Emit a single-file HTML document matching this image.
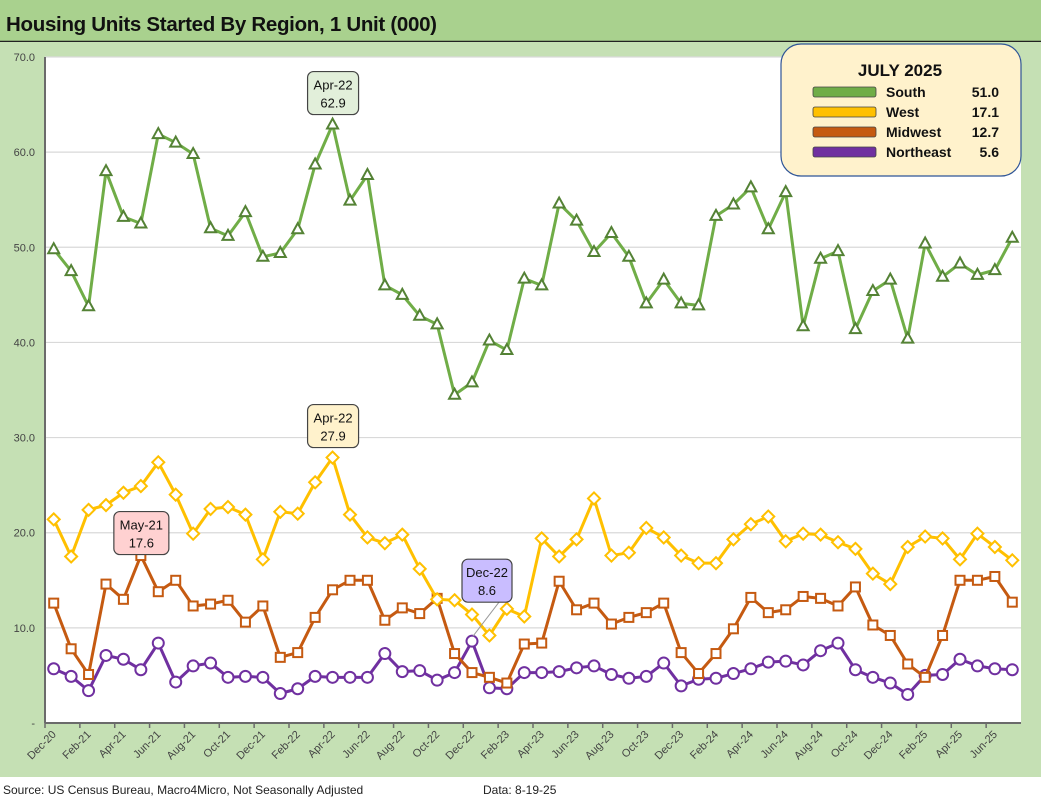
<!DOCTYPE html>
<html><head><meta charset="utf-8"><style>
body{margin:0;width:1041px;height:806px;overflow:hidden;background:#fff;font-family:"Liberation Sans",sans-serif}
svg{display:block}
</style></head><body>
<svg id="chart" width="1041" height="806">
<rect x="0" y="0" width="1041" height="41" fill="#a9d18e"/>
<line x1="0" y1="41.5" x2="1041" y2="41.5" stroke="#222" stroke-width="1.5"/>
<rect x="0" y="42" width="1041" height="735" fill="#c5e0b4"/>
<rect x="45" y="57" width="976" height="666" fill="#fff"/>
<text x="6" y="31" font-size="20.5" font-weight="bold" fill="#111" letter-spacing="-0.3">Housing Units Started By Region, 1 Unit (000)</text>
<text x="3" y="794" font-size="12" fill="#222">Source: US Census Bureau, Macro4Micro, Not Seasonally Adjusted</text>
<text x="483" y="794" font-size="12" fill="#222">Data: 8-19-25</text>
<g id="grid"></g><g id="axes"></g><g id="series"></g><g id="notes"></g>
<g>
<rect x="781" y="44" width="240" height="132" rx="20" fill="#fff2cc" stroke="#2f5597" stroke-width="1.2"/>
<text x="900" y="76" font-size="17" font-weight="bold" text-anchor="middle" fill="#111">JULY 2025</text>
<g id="legend-rows"></g>
</g>
</svg>
<script>
const months=["Dec-20","Jan-21","Feb-21","Mar-21","Apr-21","May-21","Jun-21","Jul-21","Aug-21","Sep-21","Oct-21","Nov-21","Dec-21","Jan-22","Feb-22","Mar-22","Apr-22","May-22","Jun-22","Jul-22","Aug-22","Sep-22","Oct-22","Nov-22","Dec-22","Jan-23","Feb-23","Mar-23","Apr-23","May-23","Jun-23","Jul-23","Aug-23","Sep-23","Oct-23","Nov-23","Dec-23","Jan-24","Feb-24","Mar-24","Apr-24","May-24","Jun-24","Jul-24","Aug-24","Sep-24","Oct-24","Nov-24","Dec-24","Jan-25","Feb-25","Mar-25","Apr-25","May-25","Jun-25","Jul-25"];
const south=[49.8,47.5,43.8,58.0,53.2,52.5,61.9,61.0,59.8,52.0,51.2,53.7,49.0,49.4,51.9,58.7,62.9,54.9,57.6,46.0,45.0,42.8,41.9,34.5,35.8,40.2,39.2,46.7,46.0,54.6,52.8,49.5,51.5,49.0,44.1,46.6,44.1,43.9,53.3,54.5,56.3,51.9,55.8,41.7,48.8,49.6,41.4,45.4,46.6,40.4,50.4,46.9,48.3,47.1,47.6,51.0];
const west=[21.4,17.5,22.4,22.9,24.2,24.9,27.4,24.0,19.9,22.5,22.7,21.9,17.2,22.2,22.0,25.3,27.9,21.9,19.5,18.9,19.8,16.2,13.0,12.9,11.4,9.2,12.0,11.2,19.4,17.5,19.3,23.6,17.6,17.9,20.5,19.5,17.6,16.8,16.8,19.3,20.9,21.7,19.1,19.9,19.8,19.0,18.3,15.7,14.6,18.5,19.6,19.4,17.2,19.9,18.5,17.1];
const midwest=[12.6,7.8,5.1,14.6,13.0,17.6,13.8,15.0,12.3,12.5,12.9,10.6,12.3,6.9,7.4,11.1,14.0,15.0,15.0,10.8,12.1,11.5,13.1,7.3,5.3,4.8,4.2,8.3,8.4,14.9,11.9,12.6,10.4,11.1,11.6,12.6,7.4,5.2,7.3,9.9,13.2,11.6,11.9,13.3,13.1,12.3,14.3,10.3,9.2,6.2,4.8,9.2,15.0,15.0,15.4,12.7];
const northeast=[5.7,4.9,3.4,7.1,6.7,5.6,8.4,4.3,6.0,6.3,4.8,4.9,4.8,3.1,3.6,4.9,4.8,4.8,4.8,7.3,5.4,5.5,4.5,5.3,8.6,3.7,3.6,5.3,5.3,5.4,5.8,6.0,5.1,4.7,4.9,6.3,3.9,4.6,4.7,5.2,5.7,6.4,6.5,6.1,7.6,8.4,5.6,4.8,4.2,3.0,5.0,5.1,6.7,6.0,5.7,5.6];
const yTicks=[0,10,20,30,40,50,60,70];
const yTickLabels=["-","10.0","20.0","30.0","40.0","50.0","60.0","70.0"];
const seriesNames=["South","West","Midwest","Northeast"];
const legendValues=["51.0","17.1","12.7","5.6"];
const callouts=[{s:"south",m:"Apr-22",v:62.9},{s:"west",m:"Apr-22",v:27.9},{s:"midwest",m:"May-21",v:17.6},{s:"northeast",m:"Dec-22",v:8.6}];

const NS="http://www.w3.org/2000/svg";
const X0=45,X1=1021,Y0=723,Y1=57,YMAX=70;
const bw=(X1-X0)/months.length;
const xPos=i=>X0+bw*(i+0.5);
const yPos=v=>Y0-(v/YMAX)*(Y0-Y1);
function mk(tag,attrs,parent){const e=document.createElementNS(NS,tag);for(const k in attrs)e.setAttribute(k,attrs[k]);parent.appendChild(e);return e;}
const grid=document.getElementById('grid'),axes=document.getElementById('axes'),ser=document.getElementById('series'),notes=document.getElementById('notes');
yTicks.forEach((t,i)=>{
  if(t>0){const g=mk('line',{x1:X0,x2:X1,y1:yPos(t),y2:yPos(t),stroke:'#d9d9d9','stroke-width':1.2},grid);
  
  }
  const tx=mk('text',{x:35,y:yPos(t)+4,'font-size':11,'text-anchor':'end',fill:'#444'},axes);
  tx.textContent=yTickLabels[i];
  
  
});
mk('line',{x1:X0,x2:X0,y1:Y1,y2:Y0,stroke:'#6b6b6b','stroke-width':2},axes);
mk('line',{x1:X0,x2:X1,y1:Y0,y2:Y0,stroke:'#6b6b6b','stroke-width':2},axes);
months.forEach((m,i)=>{
  if(i%2===0){
    const xb=X0+bw*i;
    mk('line',{x1:xb,x2:xb,y1:Y0,y2:Y0+5,stroke:'#6b6b6b','stroke-width':1.5},axes);
    const tx=mk('text',{x:xPos(i)+3,y:Y0+12,'font-size':11,'text-anchor':'end',fill:'#444',transform:`rotate(-45 ${xPos(i)+3} ${Y0+12})`},axes);
    tx.textContent=m;
    
    
  }
});
const defs={south:{d:south,c:'#70ad47',mc:'#548235',mk:'tri'},west:{d:west,c:'#ffc000',mc:'#ffc000',mk:'dia'},midwest:{d:midwest,c:'#c55a11',mc:'#c55a11',mk:'sq'},northeast:{d:northeast,c:'#7030a0',mc:'#7030a0',mk:'circ'}};
function marker(type,x,y,col,g){
  let e;
  if(type==='tri')e=mk('polygon',{points:`${x},${y-6} ${x-5.5},${y+4} ${x+5.5},${y+4}`,fill:'#fff',stroke:col,'stroke-width':2},g);
  else if(type==='dia')e=mk('polygon',{points:`${x},${y-6} ${x+6},${y} ${x},${y+6} ${x-6},${y}`,fill:'#fff',stroke:col,'stroke-width':2},g);
  else if(type==='sq')e=mk('rect',{x:x-4.5,y:y-4.5,width:9,height:9,fill:'#fff',stroke:col,'stroke-width':2},g);
  else e=mk('circle',{cx:x,cy:y,r:5.5,fill:'#fff',stroke:col,'stroke-width':2},g);
  return e;
}
['northeast','midwest','west','south'].forEach(k=>{
  const s=defs[k];const g=mk('g',{},ser);
  
  
  const pl=mk('polyline',{points:s.d.map((v,i)=>xPos(i)+','+yPos(v)).join(' '),fill:'none',stroke:s.c,'stroke-width':3,'stroke-linejoin':'round'},g);
  
  
  s.d.forEach((v,i)=>{const m=marker(s.mk,xPos(i),yPos(v),s.mc,g);
    
    });
});
const cfill={south:'#e2efda',west:'#fff2cc',midwest:'#ffd1d1',northeast:'#c9bdff'};
callouts.forEach(c=>{
  const i=months.indexOf(c.m);const x=xPos(i),y=yPos(c.v);
  const g=mk('g',{},notes);
  
  
  let bx=x-25,by=y-53,bwid=51;
  if(c.s==='midwest'){bx=x-27;by=y-44;bwid=55;}
  if(c.s==='northeast'){bx=x-10;by=y-82;bwid=50;mk('line',{x1:bx+37,y1:by+43,x2:x+1,y2:y-5,stroke:'#999','stroke-width':1},g);}
  mk('rect',{x:bx,y:by,width:bwid,height:43,rx:6,fill:cfill[c.s],stroke:'#444','stroke-width':1.2},g);
  const t1=mk('text',{x:bx+bwid/2,y:by+18,'font-size':13,'text-anchor':'middle',fill:'#111'},g);t1.textContent=c.m;
  const t2=mk('text',{x:bx+bwid/2,y:by+36,'font-size':13,'text-anchor':'middle',fill:'#111'},g);t2.textContent=c.v.toFixed(1);
});
const lr=document.getElementById('legend-rows');
seriesNames.forEach((n,i)=>{
  const k=n.toLowerCase();const y=92+i*20;
  const g=mk('g',{},lr);
  
  
  mk('rect',{x:813,y:y-5,width:63,height:10,rx:2,fill:defs[k].c,stroke:'#444','stroke-width':0.8},g);
  const t=mk('text',{x:886,y:y+5,'font-size':14,'font-weight':'bold',fill:'#111'},g);t.textContent=n;
  const v=mk('text',{x:999,y:y+5,'font-size':14,'font-weight':'bold','text-anchor':'end',fill:'#111'},g);v.textContent=legendValues[i];
});
</script>
</body></html>
